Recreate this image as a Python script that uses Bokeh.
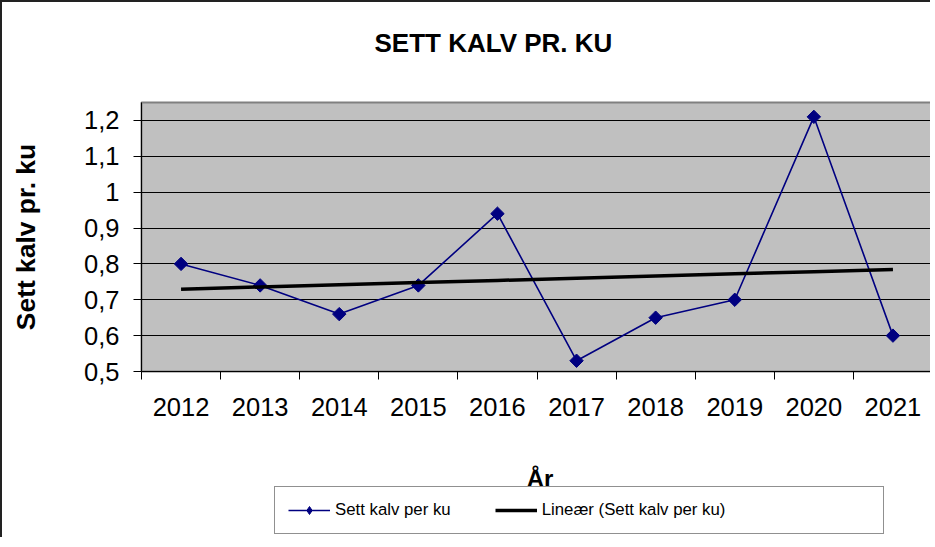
import numpy as np
from bokeh.plotting import figure
from bokeh.layouts import column
from bokeh.models import Range1d, FixedTicker, Legend, LegendItem, Label
from bokeh.embed import file_html
from bokeh.resources import INLINE

# ---- data ----
years = ["2012", "2013", "2014", "2015", "2016", "2017", "2018", "2019", "2020", "2021"]
kalv_per_ku = [0.80, 0.74, 0.66, 0.74, 0.94, 0.53, 0.65, 0.70, 1.21, 0.60]
y_ticks = [0.5, 0.6, 0.7, 0.8, 0.9, 1.0, 1.1, 1.2]
y_tick_labels = ["0,5", "0,6", "0,7", "0,8", "0,9", "1", "1,1", "1,2"]
title_text = "SETT KALV PR. KU"
x_label = "År"
y_label = "Sett kalv pr. ku"
series_name = "Sett kalv per ku"
trend_name = "Lineær (Sett kalv per ku)"

# ---- derived ----
n = len(years)
pos = np.arange(n)
x_centers = pos + 0.5
slope, intercept = np.polyfit(pos + 1, kalv_per_ku, 1)
trend = intercept + slope * (pos + 1)

FONT = "Liberation Sans"
NAVY = "#000080"
BORDER = "2px solid #222222"
W = 930
T_H, P_H, Q_H = 80, 353, 104


def strip(h, border_top=False):
    f = figure(width=W, height=h, output_backend="svg", toolbar_location=None, title=None,
               x_axis_location=None, y_axis_location=None,
               x_range=Range1d(0, n), y_range=Range1d(0, h),
               min_border_left=0, min_border_right=0, min_border_top=0, min_border_bottom=0)
    f.styles = {"border-left": BORDER, "border-top": BORDER} if border_top else {"border-left": BORDER}
    f.outline_line_color = None
    f.xgrid.visible = False
    f.ygrid.visible = False
    f.background_fill_color = "white"
    f.border_fill_color = "white"
    return f


# ---- title strip ----
t = strip(T_H, border_top=True)
t.add_layout(Label(x=0, y=T_H - 40, x_offset=233, text=title_text, text_font=FONT,
                   text_font_size="26px", text_font_style="bold", text_color="black",
                   text_align="left", text_baseline="middle"))

# ---- main plot ----
p = figure(width=W, height=P_H, output_backend="svg", toolbar_location=None, title=None,
           x_range=Range1d(0, n), y_range=Range1d(0.5, 1.25),
           min_border_left=139, min_border_right=0, min_border_top=22, min_border_bottom=62)
p.styles = {"border-left": BORDER}

p.background_fill_color = "#C0C0C0"
p.border_fill_color = "white"
p.outline_line_color = "#808080"
p.outline_line_width = 2

p.xgrid.visible = False
p.ygrid.ticker = FixedTicker(ticks=y_ticks)
p.ygrid.grid_line_color = "black"
p.ygrid.grid_line_width = 1

# x axis: labels at centers, ticks at boundaries
p.xaxis.ticker = FixedTicker(ticks=list(x_centers), minor_ticks=list(range(n + 1)))
p.xaxis.major_label_overrides = {float(c): y for c, y in zip(x_centers, years)}
p.xaxis.major_tick_out = 0
p.xaxis.major_tick_in = 0
p.xaxis.minor_tick_out = 8
p.xaxis.minor_tick_in = 0
p.xaxis.minor_tick_line_color = "black"
p.xaxis.axis_line_color = "black"
p.xaxis.major_label_text_font = FONT
p.xaxis.major_label_text_font_size = "25.5px"
p.xaxis.major_label_text_color = "black"
p.xaxis.major_label_standoff = 18

# y axis
p.yaxis.ticker = FixedTicker(ticks=y_ticks)
p.yaxis.major_label_overrides = {t_: l for t_, l in zip(y_ticks, y_tick_labels)}
p.yaxis.major_tick_out = 8
p.yaxis.major_tick_in = 0
p.yaxis.minor_tick_out = 0
p.yaxis.minor_tick_in = 0
p.yaxis.axis_line_color = "black"
p.yaxis.major_tick_line_color = "black"
p.yaxis.major_label_text_font = FONT
p.yaxis.major_label_text_font_size = "25.5px"
p.yaxis.major_label_text_color = "black"
p.yaxis.major_label_standoff = 14
p.yaxis.axis_label = y_label
p.yaxis.axis_label_text_font = FONT
p.yaxis.axis_label_text_font_size = "26.4px"
p.yaxis.axis_label_text_font_style = "bold"
p.yaxis.axis_label_text_color = "black"
p.yaxis.axis_label_standoff = 40

p.line(x_centers, kalv_per_ku, line_color=NAVY, line_width=1.6)
p.scatter(x_centers, kalv_per_ku, marker="square", angle=np.pi / 4, size=9.5,
          fill_color=NAVY, line_color=NAVY)
p.line(x_centers, trend, line_color="black", line_width=3.5)

# ---- x-axis title and legend strip ----
q = strip(Q_H)
q.add_layout(Label(x=n / 2, y=Q_H - 45, x_offset=3, text=x_label, text_font=FONT,
                   text_font_size="24px", text_font_style="bold", text_color="black",
                   text_align="center", text_baseline="middle"))
# legend glyphs: same data, mapped to an off-screen range so only the legend shows them
q.extra_y_ranges = {"off": Range1d(100, 101)}
l_line = q.line(x_centers, kalv_per_ku, line_color=NAVY, line_width=1.6, y_range_name="off")
l_pts = q.scatter(x_centers, kalv_per_ku, marker="diamond", size=13,
                  fill_color=NAVY, line_color=NAVY, y_range_name="off")
l_trend = q.line(x_centers, trend, line_color="black", line_width=3.5, y_range_name="off")
l_pad = q.line(x_centers, trend, line_alpha=0, y_range_name="off")

legend = Legend(items=[LegendItem(label=series_name, renderers=[l_line, l_pts]),
                       LegendItem(label=trend_name, renderers=[l_trend]),
                       LegendItem(label="\u00a0", renderers=[l_pad])],
                orientation="horizontal", location=(133, 3),
                border_line_color="#222222", border_line_width=1.5,
                background_fill_color="white", background_fill_alpha=1,
                padding=13, margin=0, spacing=44, glyph_width=42, glyph_height=20,
                label_width=54, label_height=20,
                label_standoff=5, label_text_font=FONT, label_text_font_size="16.8px",
                label_text_color="black")
q.add_layout(legend, "center")

layout = column(t, p, q, spacing=0)
open("out.html", "w").write(file_html(layout, INLINE))
